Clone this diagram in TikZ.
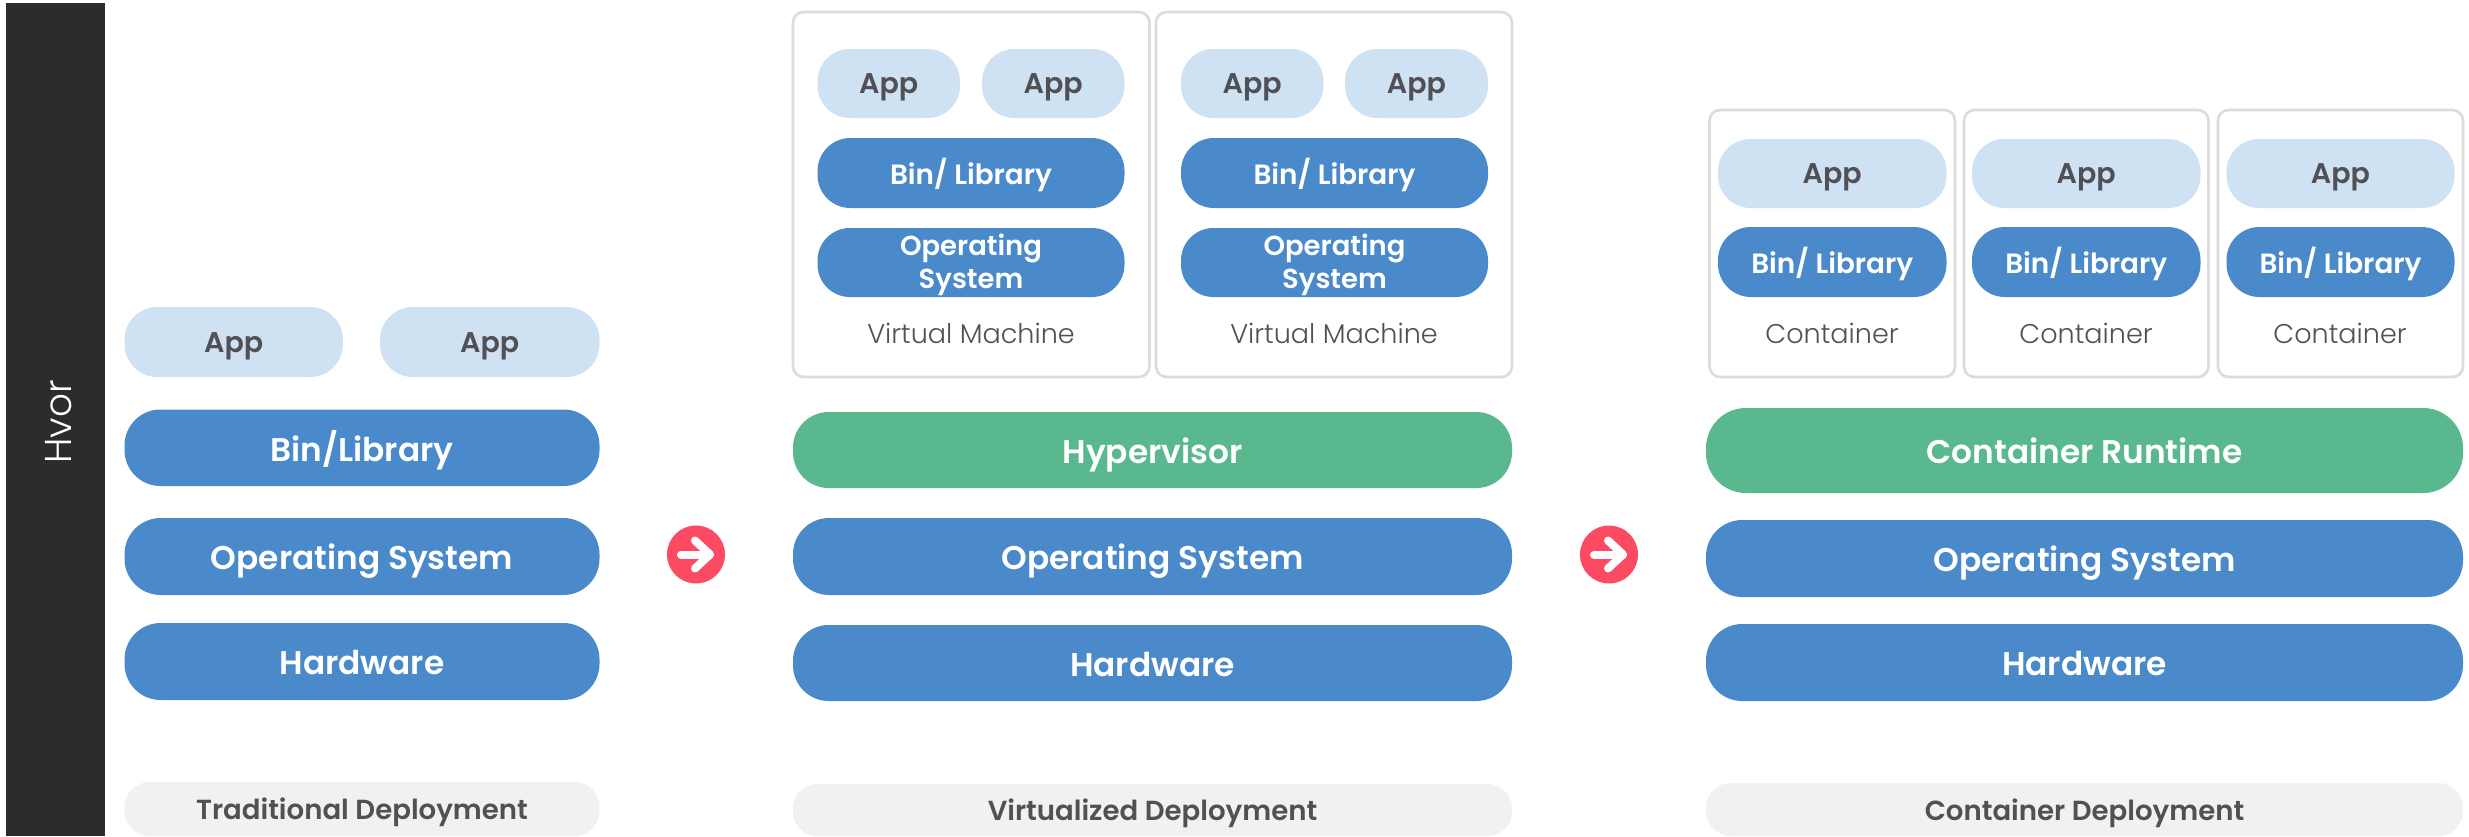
\documentclass[tikz,border=0pt]{standalone}
\usepackage{fontspec}
\setmainfont{Poppins}[UprightFont=* Medium,BoldFont=* SemiBold]
\newfontfamily\lightfont{Poppins}[UprightFont=* Light]
\definecolor{barc}{HTML}{2C2C2E}
\definecolor{bluec}{HTML}{4A8ACA}
\definecolor{lightc}{HTML}{CFE2F3}
\definecolor{greenc}{HTML}{5AB88F}
\definecolor{grayc}{HTML}{F1F1F1}
\definecolor{textc}{HTML}{515155}
\definecolor{edgec}{HTML}{DCDCDC}
\definecolor{redc}{HTML}{FB4A62}
\newcommand{\px}[2]{\fontsize{#1}{#2}\selectfont}
% \pill{style}{name}{x1}{y1}{x2}{y2}{text}
\newcommand{\pill}[7]{%
  \pgfmathsetmacro{\pw}{(#5-#3)*0.75}\pgfmathsetmacro{\ph}{(#6-#4)*0.75}%
  \node[#1,minimum width=\pw pt,minimum height=\ph pt,rounded corners=\ph pt*0.47] (#2) at ({(#3+#5)/2},{(#4+#6)/2}) {#7};}
\tikzset{
  x=0.75pt,y=-0.75pt,
  base/.style={inner sep=0pt,outer sep=0pt,align=center},
  big/.style={base,text depth=0pt,fill=bluec,text=white,font=\bfseries\px{24.6}{30},text height=20pt},
  bigg/.style={big,fill=greenc},
  mid/.style={base,text depth=0pt,fill=bluec,text=white,font=\bfseries\px{20.9}{24.75},text height=16.5pt},
  midtwo/.style={base,fill=bluec,text=white,font=\bfseries\px{20.6}{24.75}},
  app/.style={base,text depth=0pt,fill=lightc,text=textc,font=\bfseries\px{21.4}{26},text height=15pt},
  title/.style={base,text depth=0pt,fill=grayc,text=textc,font=\bfseries\px{20.7}{26},text height=16pt},
  frame/.style={inner sep=0pt,draw=edgec,line width=2pt,fill=white},
  tag/.style={inner sep=0pt,text=textc,font=\lightfont\px{20.3}{24}},
  nextc/.style={circle,fill=redc,inner sep=0pt,minimum size=43.5pt},
  glyph/.style={draw=white,line width=6pt,line cap=round,line join=round},
}
\newcommand{\fr}[5]{%
  \pgfmathsetmacro{\pw}{(#4-#2)*0.75}\pgfmathsetmacro{\ph}{(#5-#3)*0.75}%
  \node[frame,minimum width=\pw pt,minimum height=\ph pt,rounded corners=8pt] (#1) at ({(#2+#4)/2},{(#3+#5)/2}) {};}
\begin{document}
\begin{tikzpicture}
\useasboundingbox[fill=white] (0,0) rectangle (2469,836);
\node[fill=barc,inner sep=0pt,minimum width=74.25pt,minimum height=624.75pt] (side) at (55.5,419.5) {};
\node[rotate=90,text=white,font=\lightfont\px{28}{32}] (hvor) at (58.5,422) {Hvor};
% Traditional
\pill{app}{ta}{124.5}{307}{343}{377}{App}
\pill{app}{tb}{380}{307}{599.5}{377}{App}
\pill{big}{tc}{124.5}{409.5}{599.5}{486}{Bin/Library}
\pill{big}{td}{124.5}{518}{599.5}{595}{Operating System}
\pill{big}{te}{124.5}{623}{599.5}{700}{Hardware}
\pill{title}{tf}{124.5}{782}{599.5}{836}{Traditional Deployment}
% arrows
\node[nextc] (n1) at (696,554.5) {};
\draw[glyph] ([shift={(-15,0)}]n1.center) -- ([shift={(14,0)}]n1.center);
\draw[glyph] ([shift={(-1,-14)}]n1.center) -- ([shift={(14,0)}]n1.center) -- ([shift={(-1,14)}]n1.center);
\node[nextc] (n2) at (1609,554.5) {};
\draw[glyph] ([shift={(-15,0)}]n2.center) -- ([shift={(14,0)}]n2.center);
\draw[glyph] ([shift={(-1,-14)}]n2.center) -- ([shift={(14,0)}]n2.center) -- ([shift={(-1,14)}]n2.center);
% Virtualized
\fr{va}{793}{12}{1149.5}{377}
\fr{vb}{1156}{12}{1512}{377}
\pill{app}{va1}{817.5}{49}{960}{118}{App}
\pill{app}{va2}{982}{49}{1124.5}{118}{App}
\pill{mid}{va3}{817.5}{138}{1124.5}{208}{Bin/ Library}
\pill{midtwo}{va4}{817.5}{228}{1124.5}{297}{\rule{0pt}{20pt}Operating\\System}
\node[tag] (va5) at (971,333) {Virtual Machine};
\pill{app}{vb1}{1181}{49}{1323.5}{118}{App}
\pill{app}{vb2}{1345}{49}{1488}{118}{App}
\pill{mid}{vb3}{1181}{138}{1488}{208}{Bin/ Library}
\pill{midtwo}{vb4}{1181}{228}{1488}{297}{\rule{0pt}{20pt}Operating\\System}
\node[tag] (vb5) at (1334,333) {Virtual Machine};
\pill{bigg}{vc}{793}{412}{1512}{488}{Hypervisor}
\pill{big}{vd}{793}{518}{1512}{595}{Operating System}
\pill{big}{ve}{793}{625}{1512}{701}{Hardware}
\pill{title}{vf}{793}{784}{1512}{836}{Virtualized Deployment}
% Container
\fr{ca}{1709.5}{110}{1955}{377}
\fr{cb}{1964}{110}{2208.5}{377}
\fr{cc}{2218}{110}{2463}{377}
\pill{app}{ca1}{1718}{139}{1946.5}{208}{App}
\pill{mid}{ca2}{1718}{227}{1946.5}{297}{Bin/ Library}
\node[tag] (ca3) at (1832,333) {Container};
\pill{app}{cb1}{1972}{139}{2200.5}{208}{App}
\pill{mid}{cb2}{1972}{227}{2200.5}{297}{Bin/ Library}
\node[tag] (cb3) at (2086,333) {Container};
\pill{app}{cc1}{2226.5}{139}{2454.5}{208}{App}
\pill{mid}{cc2}{2226.5}{227}{2454.5}{297}{Bin/ Library}
\node[tag] (cc3) at (2340,333) {Container};
\pill{bigg}{cd}{1706}{408}{2463}{493}{Container Runtime}
\pill{big}{ce}{1706}{520}{2463}{597}{Operating System}
\pill{big}{cf}{1706}{624}{2463}{701}{Hardware}
\pill{title}{cg}{1706}{783}{2463}{836}{Container Deployment}
\end{tikzpicture}
\end{document}
